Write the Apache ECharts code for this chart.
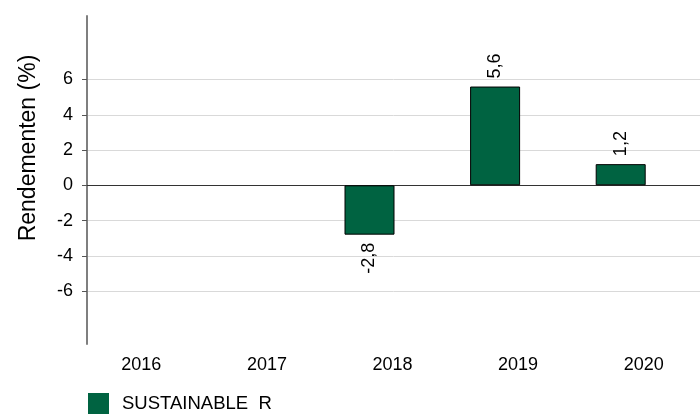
<!DOCTYPE html>
<html>
<head>
<meta charset="utf-8">
<script src="https://cdn.jsdelivr.net/npm/echarts@6/dist/echarts.min.js"></script>
<style>
  html, body { margin: 0; padding: 0; background: #fff; }
  #main { width: 700px; height: 414px; }
</style>
</head>
<body>
<div id="main"></div>
<script>
var years = ['2016', '2017', '2018', '2019', '2020'];
var returns = [null, null, -2.8, 5.6, 1.2];
var yTicks = [-6, -4, -2, 0, 2, 4, 6];
var seriesName = 'SUSTAINABLE  R';
var axisTitle = 'Rendementen (%)';

var font = 'Liberation Sans, Arial, sans-serif';
var chartDom = document.getElementById('main');
var myChart = echarts.init(chartDom);
var option;

// labels go above positive bars and below negative ones
var barData = returns.map(function (v) {
    if (v === null) return null;
    return {
        value: v,
        label: v < 0
            ? { position: 'bottom', align: 'right' }
            : { position: 'top', align: 'left' }
    };
});

option = {
    animation: false,
    textStyle: { fontFamily: font },
    grid: [
        { left: 87, right: 0, top: 16, bottom: 70 },
        { left: 55.5, right: 16.5, top: 16, bottom: 70 }
    ],
    graphic: [{
        type: 'text',
        x: 29,
        y: 148,
        rotation: Math.PI / 2,
        style: {
            text: axisTitle,
            font: '23px ' + font,
            fill: '#000',
            align: 'center',
            verticalAlign: 'middle'
        }
    }],
    legend: {
        data: [seriesName],
        left: 88,
        top: 393,
        padding: 0,
        itemWidth: 21,
        itemHeight: 21,
        icon: 'rect',
        itemStyle: { borderWidth: 0 },
        textStyle: { fontSize: 18.5, color: '#000', fontFamily: font, padding: [8, 0, 0, 8] }
    },
    xAxis: [
        {
            gridIndex: 0,
            type: 'category',
            data: years,
            axisLine: { show: true, onZero: true, lineStyle: { color: '#333', width: 1 } },
            axisTick: { show: false },
            axisLabel: { show: false },
            splitLine: { show: false }
        },
        {
            gridIndex: 1,
            type: 'category',
            data: years,
            axisLine: { show: false, onZero: false },
            axisTick: { show: false },
            axisLabel: {
                interval: 0,
                fontSize: 18,
                color: '#000',
                fontFamily: font,
                margin: 12,
                padding: [0, 0, 0, 46]
            }
        }
    ],
    yAxis: [
        {
            gridIndex: 0,
            type: 'value',
            min: -9,
            max: 9.6,
            axisLine: { show: true, lineStyle: { color: '#7f7f7f', width: 2 } },
            axisTick: { show: true, length: 5, customValues: yTicks, lineStyle: { color: '#555' } },
            axisLabel: { customValues: yTicks, fontSize: 18, color: '#000', fontFamily: font, margin: 14 },
            splitLine: { show: true, lineStyle: { color: '#d9d9d9', width: 1 } }
        },
        {
            gridIndex: 1,
            type: 'value',
            min: -9,
            max: 9.6,
            show: false
        }
    ],
    series: [
        {
            name: seriesName,
            type: 'bar',
            xAxisIndex: 1,
            yAxisIndex: 1,
            barWidth: 50,
            itemStyle: { color: '#006341', borderColor: '#000', borderWidth: 1 },
            label: {
                show: true,
                rotate: 90,
                distance: 8,
                verticalAlign: 'middle',
                fontSize: 18,
                color: '#000',
                fontFamily: font,
                formatter: function (p) {
                    return String(p.value).replace('.', ',');
                }
            },
            data: barData
        }
    ]
};

option && myChart.setOption(option);
</script>
</body>
</html>
